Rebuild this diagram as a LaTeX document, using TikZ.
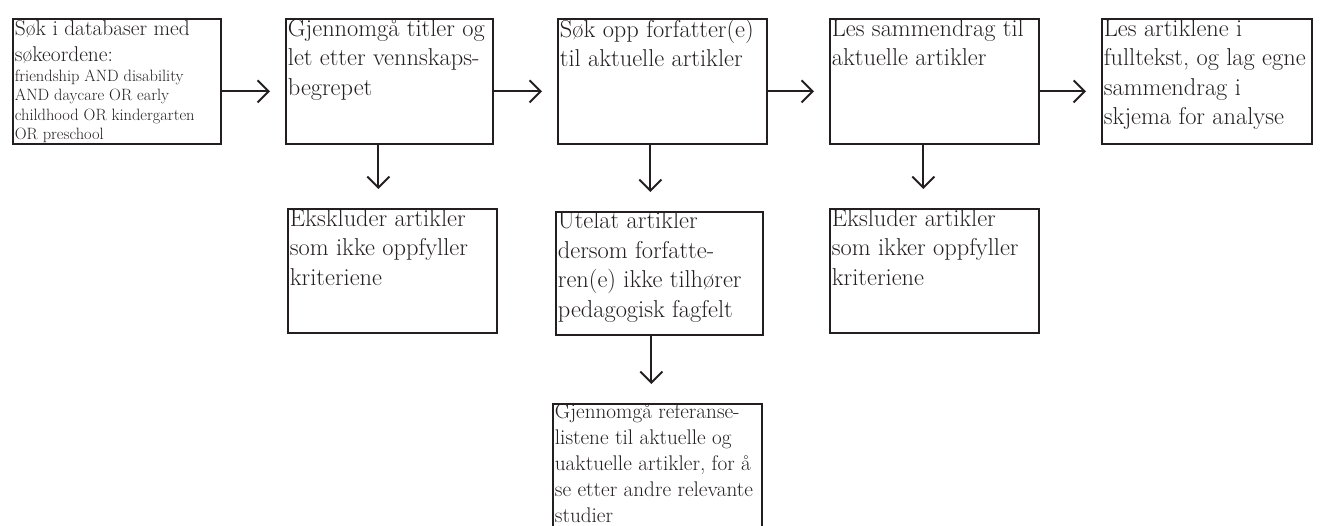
\documentclass[tikz,border=0pt]{standalone}
\usepackage{fontspec}
\usetikzlibrary{arrows.meta}
\definecolor{ink}{HTML}{231F20}
\newcommand\mainsize{\fontsize{24.4pt}{29.5pt}\selectfont}
\newcommand\firstsize{\fontsize{21.4pt}{26pt}\selectfont}
\newcommand\smallsize{\fontsize{16.4pt}{19.5pt}\selectfont}
\newcommand\refsize{\fontsize{21.2pt}{26pt}\selectfont}
% width, height, first-line height, size command, text
\newcommand\flowtext[5]{\parbox[t][#2][t]{#1}{#4\raggedright\rule{0pt}{#3}\ignorespaces#5}}
\tikzset{
  flowbox/.style={draw=ink, line width=2.8pt, rectangle, anchor=north west,
    inner xsep=2pt, inner ysep=0pt, text=ink},
  arr/.style={draw=ink, line width=2pt, -{Straight Barb[length=11pt,width=22pt]}},
  harr/.style={arr, shorten >=14.5pt},
  varr/.style={arr, shorten >=18.5pt},
}
\begin{document}
\begin{tikzpicture}[x=1pt,y=-1pt]
\path[use as bounding box] (0,0) rectangle (1320,525);
\clip (0,0) rectangle (1320,525);

\node[flowbox] (b1) at (11.5,17.5) {\flowtext{204pt}{125pt}{17pt}{\firstsize}{Søk i databaser med\\søkeordene:\par{\smallsize friendship AND disability\\AND daycare OR early\\childhood OR kindergarten\\OR preschool\par}}};
\node[flowbox] (b2) at (284.5,17.5) {\flowtext{203pt}{125pt}{17.5pt}{\mainsize}{Gjennomgå titler og\\let etter vennskaps-\\begrepet}};
\node[flowbox] (b3) at (556.5,17.5) {\flowtext{205pt}{125pt}{17.5pt}{\mainsize}{Søk opp forfatter(e)\\til aktuelle artikler}};
\node[flowbox] (b4) at (828.5,17.5) {\flowtext{205pt}{125pt}{17.5pt}{\mainsize}{Les sammendrag til\\aktuelle artikler}};
\node[flowbox] (b5) at (1100.5,17.5) {\flowtext{206pt}{125pt}{17.5pt}{\mainsize}{Les artiklene i\\fulltekst, og lag egne\\sammendrag i\\skjema for analyse}};

\node[flowbox] (e1) at (286.5,207.5) {\flowtext{205pt}{124pt}{17.5pt}{\mainsize}{Ekskluder artikler\\som ikke oppfyller\\kriteriene}};
\node[flowbox] (u) at (554.5,210.5) {\flowtext{203pt}{123pt}{16.5pt}{\mainsize}{Utelat artikler\\dersom forfatte-\\ren(e) ikke tilhører\\pedagogisk fagfelt}};
\node[flowbox] (e2) at (828.5,207.5) {\flowtext{205pt}{124pt}{17.5pt}{\mainsize}{Eksluder artikler\\som ikker oppfyller\\kriteriene}};
\node[flowbox] (g) at (551.5,402.5) {\flowtext{205pt}{140pt}{14.5pt}{\refsize}{Gjennomgå referanse-\\listene til aktuelle og\\uaktuelle artikler, for å\\se etter andre relevante\\studier}};

\draw[harr] ([yshift=-10pt]b1.east) -- ([yshift=-10pt]b1.east -| b2.west);
\draw[harr] ([yshift=-10pt]b2.east) -- ([yshift=-10pt]b2.east -| b3.west);
\draw[harr] ([yshift=-10pt]b3.east) -- ([yshift=-10pt]b3.east -| b4.west);
\draw[harr] ([yshift=-10pt]b4.east) -- ([yshift=-10pt]b4.east -| b5.west);

\draw[varr] ([xshift=-11pt]b2.south) -- ([xshift=-11pt]b2.south |- e1.north);
\draw[varr] ([xshift=-12pt]b3.south) -- ([xshift=-12pt]b3.south |- u.north);
\draw[varr] ([xshift=-11pt]b4.south) -- ([xshift=-11pt]b4.south |- e2.north);
\draw[varr] ([xshift=-8pt]u.south) -- ([xshift=-8pt]u.south |- g.north);
\end{tikzpicture}
\end{document}
